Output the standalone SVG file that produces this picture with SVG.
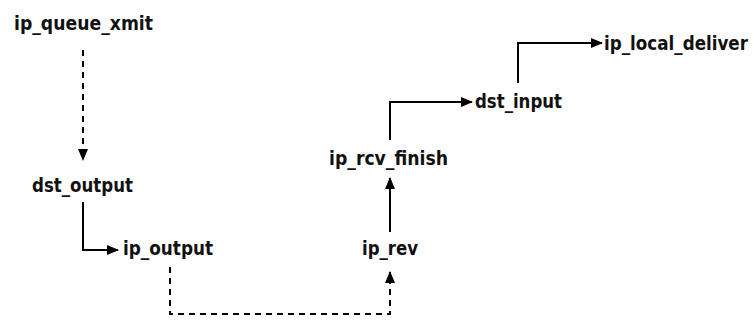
<svg xmlns="http://www.w3.org/2000/svg" width="754" height="320" viewBox="0 0 754 320">
<defs>
<marker id="ah" markerWidth="12" markerHeight="10" refX="11" refY="5" orient="auto" markerUnits="userSpaceOnUse">
<path d="M0,0 L12,5 L0,10 Z" fill="#000"/>
</marker>
<style>
.lbl{font-family:"DejaVu Sans Condensed","Liberation Sans Narrow","Liberation Sans",sans-serif;font-weight:bold;font-size:20px;fill:#111}
.sm{font-size:19px}
.c{fill:none;stroke:#000;stroke-width:2}
.d{stroke-dasharray:6 5}
</style>
</defs>
<rect width="754" height="320" fill="#fff"/>
<g id="connectors">
<path class="c d" d="M83,50 V160" marker-end="url(#ah)"/>
<path class="c" d="M83,202 V250 H118" marker-end="url(#ah)"/>
<path class="c d" d="M170,267 V314 H390 V272" marker-end="url(#ah)"/>
<path class="c" d="M390,232 V178" marker-end="url(#ah)"/>
<path class="c" d="M390,140 V102 H472" marker-end="url(#ah)"/>
<path class="c" d="M518,83 V43 H602" marker-end="url(#ah)"/>
</g>
<g id="ip_queue_xmit"><text class="lbl" x="14" y="30" textLength="139" lengthAdjust="spacingAndGlyphs">ip_queue_xmit</text></g>
<g id="dst_output"><text class="lbl" x="32" y="192" textLength="101" lengthAdjust="spacingAndGlyphs">dst_output</text></g>
<g id="ip_output"><text class="lbl" x="123" y="255" textLength="90" lengthAdjust="spacingAndGlyphs">ip_output</text></g>
<g id="ip_rev"><text class="lbl" x="362" y="255" textLength="56" lengthAdjust="spacingAndGlyphs">ip_rev</text></g>
<g id="ip_rcv_finish"><text class="lbl" x="329" y="165" textLength="119" lengthAdjust="spacingAndGlyphs">ip_rcv_finish</text></g>
<g id="dst_input"><text class="lbl" x="475" y="108" textLength="87" lengthAdjust="spacingAndGlyphs">dst_input</text></g>
<g id="ip_local_deliver"><text class="lbl sm" x="604" y="50" textLength="144" lengthAdjust="spacingAndGlyphs">ip_local_deliver</text></g>
</svg>
